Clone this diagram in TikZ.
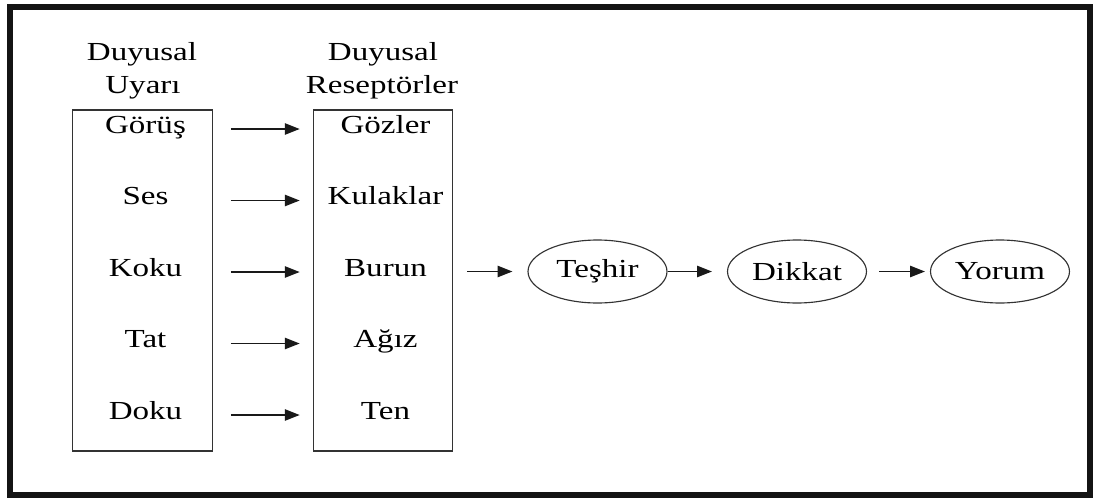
\documentclass[tikz,border=0pt]{standalone}
\usepackage{fontspec}
\setmainfont{Liberation Serif}[FakeStretch=1.27]
\usepackage{tikz}
\usetikzlibrary{arrows.meta,calc}
\usetikzlibrary{shapes,shapes.geometric}
\tikzset{>={Triangle[length=8.5pt,width=6.5pt]}}
\tikzset{
  lbl/.style={font=\fontsize{14.8}{18.7}\selectfont},
  item/.style={lbl, text height=0.7em, text depth=0.2em, inner sep=0pt},
  column/.style={draw=black!80, line width=0.65pt, minimum width=2.79cm, minimum height=6.82cm, inner sep=0pt},
  stage/.style={lbl, draw=black!80, ellipse, line width=0.65pt, minimum width=2.78cm, minimum height=1.26cm, inner sep=0pt},
  link/.style={->, line width=0.85pt, black!90}
}

\begin{document}
\begin{tikzpicture}[x=0.02cm, y=-0.02cm]
        \useasboundingbox (0,0) rectangle (1093,498);
        \coordinate (fa) at (10,7);
        \coordinate (fb) at (1090,495);
        \draw[line width=0.11cm, black!92] (fa) rectangle (fb);

        \node[lbl, anchor=base] (uh1) at (142,60.5) {Duyusal};
        \node[lbl, anchor=base] (uh2) at (143,93.5) {Uyarı};
        \node[lbl, anchor=base] (rh1) at (383,60.5) {Duyusal};
        \node[lbl, anchor=base] (rh2) at (382,93.5) {Reseptörler};

        \node[column] (ubox) at (142.5,280.5) {};
        \node[column] (rbox) at (383,280.5) {};

        \foreach \t/\y [count=\i] in {Görüş/127, Ses/198.5, Koku/270, Tat/341.5, Doku/413}
          \node[item] (u\i) at (145.5,\y+2) {\t};
        \foreach \t/\y [count=\i] in {Gözler/127, Kulaklar/198.5, Burun/270, Ağız/341.5, Ten/413}
          \node[item] (r\i) at (385.5,\y+2) {\t};

        \foreach \i in {1,...,5}
          \draw[link] ($(ubox.east |- u\i)+(18,0)$) -- ($(rbox.west |- r\i)+(-13,0)$);

        \node[stage] (tes) at (597.5,271.5) {Teşhir};
        \node[stage] (dik) at (797,271.5) {Dikkat};
        \node[stage] (yor) at (1000,271.5) {Yorum};

        \draw[link] ($(rbox.east |- tes.west)+(14,0)$) -- ($(tes.west)+(-15,0)$);
        \draw[link] (tes.east) -- ($(dik.west)+(-15,0)$);
        \draw[link] ($(dik.east)+(12,0)$) -- ($(yor.west)+(-5,0)$);
      \end{tikzpicture}
\end{document}
